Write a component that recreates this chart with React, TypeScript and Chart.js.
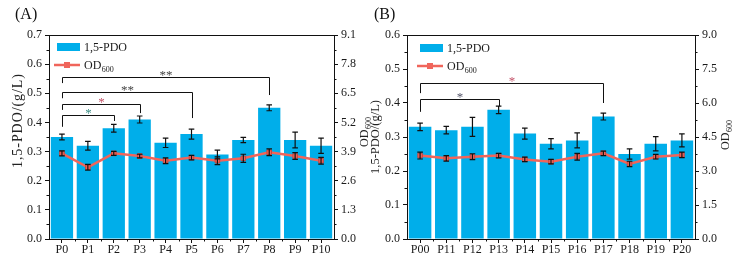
import React, { useEffect, useRef } from 'react';
import { Chart, registerables } from 'chart.js';

Chart.register(...registerables);

const SERIF = '"Liberation Serif", "Times New Roman", Times, serif';
const BAR_COLOR = '#00AEEA';
const LINE_COLOR = '#F0655B';
const MARKER_EDGE = '#C9443C';
const INK = '#111111';

// ---------- Panel (A) ----------
const categoriesA = ['P0', 'P1', 'P2', 'P3', 'P4', 'P5', 'P6', 'P7', 'P8', 'P9', 'P10'];
const pdoA = [0.35, 0.32, 0.38, 0.41, 0.33, 0.36, 0.29, 0.34, 0.45, 0.34, 0.32];
const pdoErrA = [0.01, 0.015, 0.013, 0.012, 0.016, 0.017, 0.015, 0.009, 0.01, 0.027, 0.026];
const odA = [3.82, 3.2, 3.82, 3.7, 3.49, 3.63, 3.49, 3.6, 3.87, 3.7, 3.49];
const odErrA = [0.11, 0.125, 0.09, 0.08, 0.13, 0.1, 0.17, 0.18, 0.15, 0.15, 0.15];
const pdoTicksA = [0, 0.1, 0.2, 0.3, 0.4, 0.5, 0.6, 0.7];
const odTicksA = [0, 1.3, 2.6, 3.9, 5.2, 6.5, 7.8, 9.1];
// significance brackets (g/L units): compared pair, bracket height, leg ends, mark
const sigPairsA = [[0, 2], [0, 3], [0, 5], [0, 8]];
const sigLevelsA = [0.425, 0.462, 0.505, 0.555];
const sigLeftEndsA = [0.385, 0.443, 0.483, 0.535];
const sigRightEndsA = [0.405, 0.432, 0.415, 0.494];
const sigLabelsA = ['*', '*', '**', '**'];
const sigColorsA = ['#3d8f86', '#c4546a', '#444444', '#444444'];

// ---------- Panel (B) ----------
const categoriesB = ['P00', 'P11', 'P12', 'P13', 'P14', 'P15', 'P16', 'P17', 'P18', 'P19', 'P20'];
const pdoB = [0.33, 0.32, 0.33, 0.38, 0.31, 0.28, 0.29, 0.36, 0.25, 0.28, 0.29];
const pdoErrB = [0.011, 0.011, 0.028, 0.011, 0.016, 0.015, 0.022, 0.01, 0.015, 0.021, 0.019];
const odB = [3.68, 3.56, 3.63, 3.68, 3.51, 3.41, 3.63, 3.78, 3.31, 3.63, 3.71];
const odErrB = [0.15, 0.12, 0.13, 0.1, 0.1, 0.1, 0.15, 0.1, 0.12, 0.1, 0.12];
const pdoTicksB = [0, 0.1, 0.2, 0.3, 0.4, 0.5, 0.6];
const odTicksB = [0, 1.5, 3.0, 4.5, 6.0, 7.5, 9.0];
const sigPairsB = [[0, 3], [0, 7]];
const sigLevelsB = [0.411, 0.458];
const sigLeftEndsB = [0.374, 0.429];
const sigRightEndsB = [0.391, 0.4];
const sigLabelsB = ['*', '*'];
const sigColorsB = ['#55566a', '#c4546a'];

type Panel = {
  tag: string;
  categories: string[];
  pdo: number[];
  pdoErr: number[];
  od: number[];
  odErr: number[];
  pdoTicks: number[];
  odTicks: number[];
  sigPairs: number[][];
  sigLevels: number[];
  sigLeftEnds: number[];
  sigRightEnds: number[];
  sigLabels: string[];
  sigColors: string[];
  // layout
  canvasWidth: number;
  leftAxisWidth: number;
  rightAxisWidth: number;
  tagX: number;
  leftTitleX: number;
  leftTitleY: number;
  leftTitleSize: number;
  leftTitleLength: number;
  rightTitleX: number;
  rightTitleY: number;
  legendX: number;
  legendY: number;
};

const panelA: Panel = {
  tag: '(A)',
  categories: categoriesA,
  pdo: pdoA,
  pdoErr: pdoErrA,
  od: odA,
  odErr: odErrA,
  pdoTicks: pdoTicksA,
  odTicks: odTicksA,
  sigPairs: sigPairsA,
  sigLevels: sigLevelsA,
  sigLeftEnds: sigLeftEndsA,
  sigRightEnds: sigRightEndsA,
  sigLabels: sigLabelsA,
  sigColors: sigColorsA,
  canvasWidth: 380,
  leftAxisWidth: 49,
  rightAxisWidth: 46,
  tagX: 15,
  leftTitleX: 18,
  leftTitleY: 121,
  leftTitleSize: 14,
  leftTitleLength: 94,
  rightTitleX: 364,
  rightTitleY: 132,
  legendX: 57,
  legendY: 47,
};

const panelB: Panel = {
  tag: '(B)',
  categories: categoriesB,
  pdo: pdoB,
  pdoErr: pdoErrB,
  od: odB,
  odErr: odErrB,
  pdoTicks: pdoTicksB,
  odTicks: odTicksB,
  sigPairs: sigPairsB,
  sigLevels: sigLevelsB,
  sigLeftEnds: sigLeftEndsB,
  sigRightEnds: sigRightEndsB,
  sigLabels: sigLabelsB,
  sigColors: sigColorsB,
  canvasWidth: 367,
  leftAxisWidth: 40,
  rightAxisWidth: 39,
  tagX: 7,
  leftTitleX: 9,
  leftTitleY: 137,
  leftTitleSize: 12.5,
  leftTitleLength: 72,
  rightTitleX: 358,
  rightTitleY: 135,
  legendX: 53,
  legendY: 48,
};

function drawSubscriptLabel(ctx: CanvasRenderingContext2D, x: number, y: number) {
  // "OD" with a "600" subscript, left aligned at x, vertically centred on y
  ctx.font = `12px ${SERIF}`;
  ctx.textAlign = 'left';
  ctx.textBaseline = 'alphabetic';
  const base = y + 4;
  ctx.fillText('OD', x, base);
  const w = ctx.measureText('OD').width;
  ctx.font = `8px ${SERIF}`;
  ctx.fillText('600', x + w + 0.5, base + 2.5);
}

const decorPlugin = {
  id: 'panelDecor',
  afterDatasetsDraw(chart: any, _args: any, opts: any) {
    const p: Panel = opts.panel;
    const ctx: CanvasRenderingContext2D = chart.ctx;
    const xs = chart.scales.x;
    const ys = chart.scales.y;
    const ys1 = chart.scales.y1;
    const { left, right, top, bottom } = chart.chartArea;
    ctx.save();

    // top frame line
    ctx.strokeStyle = INK;
    ctx.lineWidth = 1;
    ctx.beginPath();
    ctx.moveTo(left, top + 0.5);
    ctx.lineTo(right, top + 0.5);
    ctx.stroke();

    // minor ticks
    ctx.beginPath();
    for (let i = 0; i < p.categories.length - 1; i++) {
      const mx = Math.round((xs.getPixelForValue(i) + xs.getPixelForValue(i + 1)) / 2) + 0.5;
      ctx.moveTo(mx, bottom);
      ctx.lineTo(mx, bottom + 2.5);
    }
    for (let i = 0; i < p.pdoTicks.length - 1; i++) {
      const my = Math.round(ys.getPixelForValue((p.pdoTicks[i] + p.pdoTicks[i + 1]) / 2)) + 0.5;
      ctx.moveTo(left, my);
      ctx.lineTo(left - 2.5, my);
    }
    for (let i = 0; i < p.odTicks.length - 1; i++) {
      const my = Math.round(ys1.getPixelForValue((p.odTicks[i] + p.odTicks[i + 1]) / 2)) + 0.5;
      ctx.moveTo(right, my);
      ctx.lineTo(right + 2.5, my);
    }
    ctx.stroke();

    // error bars
    ctx.strokeStyle = INK;
    ctx.lineWidth = 1.2;
    const drawErr = (vals: number[], errs: number[], scale: any) => {
      ctx.beginPath();
      vals.forEach((v, i) => {
        const cx = xs.getPixelForValue(i);
        const yt = scale.getPixelForValue(v + errs[i]);
        const yb = scale.getPixelForValue(v - errs[i]);
        ctx.moveTo(cx, yt);
        ctx.lineTo(cx, yb);
        ctx.moveTo(cx - 2.8, yt);
        ctx.lineTo(cx + 2.8, yt);
        ctx.moveTo(cx - 2.8, yb);
        ctx.lineTo(cx + 2.8, yb);
      });
      ctx.stroke();
    };
    drawErr(p.pdo, p.pdoErr, ys);
    drawErr(p.od, p.odErr, ys1);

    // significance brackets
    ctx.lineWidth = 1;
    p.sigPairs.forEach((pair, k) => {
      const x0 = Math.round(xs.getPixelForValue(pair[0])) + 0.5;
      const x1 = Math.round(xs.getPixelForValue(pair[1])) + 0.5;
      const yl = Math.round(ys.getPixelForValue(p.sigLevels[k])) + 0.5;
      const y0 = ys.getPixelForValue(p.sigLeftEnds[k]);
      const y1 = ys.getPixelForValue(p.sigRightEnds[k]);
      ctx.strokeStyle = INK;
      ctx.beginPath();
      ctx.moveTo(x0, y0);
      ctx.lineTo(x0, yl);
      ctx.lineTo(x1, yl);
      ctx.lineTo(x1, y1);
      ctx.stroke();
      ctx.fillStyle = p.sigColors[k];
      ctx.font = `13px ${SERIF}`;
      ctx.textAlign = 'center';
      ctx.textBaseline = 'alphabetic';
      ctx.fillText(p.sigLabels[k], (x0 + x1) / 2, yl + 1);
    });

    // legend
    const lx = p.legendX;
    const ly = p.legendY;
    ctx.fillStyle = BAR_COLOR;
    ctx.fillRect(lx, ly - 4, 23, 8);
    ctx.fillStyle = '#1a1a1a';
    ctx.font = `12px ${SERIF}`;
    ctx.textAlign = 'left';
    ctx.textBaseline = 'middle';
    ctx.fillText('1,5-PDO', lx + 27, ly + 0.5);
    const ly2 = ly + 18;
    ctx.strokeStyle = LINE_COLOR;
    ctx.lineWidth = 2.5;
    ctx.beginPath();
    ctx.moveTo(lx - 3, ly2);
    ctx.lineTo(lx + 23, ly2);
    ctx.stroke();
    ctx.fillStyle = LINE_COLOR;
    ctx.fillRect(lx + 10 - 3, ly2 - 3, 6, 6);
    ctx.fillStyle = '#1a1a1a';
    drawSubscriptLabel(ctx, lx + 27, ly2);

    // panel tag
    ctx.font = `16px ${SERIF}`;
    ctx.textAlign = 'left';
    ctx.textBaseline = 'alphabetic';
    ctx.fillStyle = '#111';
    ctx.fillText(p.tag, p.tagX, 19);

    // left axis title (rotated, spaced out to its drawn length)
    ctx.save();
    ctx.translate(p.leftTitleX, p.leftTitleY);
    ctx.rotate(-Math.PI / 2);
    ctx.font = `${p.leftTitleSize}px ${SERIF}`;
    const lt = '1,5-PDO/(g/L)';
    const ltw = ctx.measureText(lt).width;
    const spacing = Math.max(0, (p.leftTitleLength - ltw) / (lt.length - 1));
    (ctx as any).letterSpacing = `${spacing}px`;
    ctx.textAlign = 'center';
    ctx.textBaseline = 'middle';
    ctx.fillStyle = '#222';
    ctx.fillText(lt, spacing / 2, 0);
    (ctx as any).letterSpacing = '0px';
    ctx.restore();

    // right axis title (rotated, with subscript)
    ctx.save();
    ctx.translate(p.rightTitleX, p.rightTitleY);
    ctx.rotate(-Math.PI / 2);
    ctx.font = `12px ${SERIF}`;
    const odw = ctx.measureText('OD').width;
    ctx.font = `8px ${SERIF}`;
    const subw = ctx.measureText('600').width;
    ctx.fillStyle = '#222';
    drawSubscriptLabel(ctx, -(odw + subw + 0.5) / 2, 0);
    ctx.restore();

    ctx.restore();
  },
};

function buildConfig(p: Panel): any {
  const tickFont = { family: SERIF, size: 12 };
  return {
    type: 'bar',
    data: {
      labels: p.categories,
      datasets: [
        {
          type: 'line',
          label: 'OD600',
          data: p.od,
          yAxisID: 'y1',
          borderColor: LINE_COLOR,
          borderWidth: 2.5,
          pointStyle: 'rect',
          pointRadius: 3.2,
          pointBackgroundColor: LINE_COLOR,
          pointBorderColor: MARKER_EDGE,
          pointBorderWidth: 1,
          tension: 0,
          order: 0,
        },
        {
          type: 'bar',
          label: '1,5-PDO',
          data: p.pdo,
          yAxisID: 'y',
          backgroundColor: BAR_COLOR,
          borderWidth: 0,
          barPercentage: 0.86,
          categoryPercentage: 1,
          order: 1,
        },
      ],
    },
    options: {
      responsive: false,
      animation: false,
      devicePixelRatio: 1,
      layout: { padding: { top: 35, left: 0, right: 0, bottom: 0 } },
      plugins: {
        legend: { display: false },
        tooltip: { enabled: false },
        panelDecor: { panel: p },
      },
      scales: {
        x: {
          offset: true,
          grid: { offset: false, drawOnChartArea: false, tickLength: 4, color: INK, lineWidth: 1 },
          border: { color: INK, width: 1 },
          ticks: { font: tickFont, color: '#1a1a1a', padding: 0, maxRotation: 0, autoSkip: false },
          afterFit(s: any) {
            s.height = 20;
          },
        },
        y: {
          position: 'left',
          min: 0,
          max: p.pdoTicks[p.pdoTicks.length - 1],
          afterBuildTicks(s: any) {
            s.ticks = p.pdoTicks.map((v) => ({ value: v }));
          },
          grid: { drawOnChartArea: false, tickLength: 4, color: INK, lineWidth: 1 },
          border: { color: INK, width: 1 },
          ticks: {
            font: tickFont,
            color: '#1a1a1a',
            padding: 3,
            callback: (v: any) => Number(v).toFixed(1),
          },
          afterFit(s: any) {
            s.width = p.leftAxisWidth;
          },
        },
        y1: {
          position: 'right',
          min: 0,
          max: p.odTicks[p.odTicks.length - 1],
          afterBuildTicks(s: any) {
            s.ticks = p.odTicks.map((v) => ({ value: v }));
          },
          grid: { drawOnChartArea: false, tickLength: 4, color: INK, lineWidth: 1 },
          border: { color: INK, width: 1 },
          ticks: {
            font: tickFont,
            color: '#1a1a1a',
            padding: 3,
            callback: (v: any) => Number(v).toFixed(1),
          },
          afterFit(s: any) {
            s.width = p.rightAxisWidth;
          },
        },
      },
    },
    plugins: [decorPlugin],
  };
}

function PanelChart({ panel, left }: { panel: Panel; left: number }) {
  const ref = useRef<HTMLCanvasElement>(null);
  useEffect(() => {
    if (!ref.current) return;
    const chart = new Chart(ref.current, buildConfig(panel));
    return () => chart.destroy();
  }, [panel]);
  return (
    <canvas
      ref={ref}
      width={panel.canvasWidth}
      height={259}
      style={{ position: 'absolute', left, top: 0, width: panel.canvasWidth, height: 259 }}
    />
  );
}

export default function App() {
  return (
    <div
      style={{
        position: 'absolute',
        left: 0,
        top: 0,
        width: 734,
        height: 259,
        background: '#ffffff',
        overflow: 'hidden',
      }}
    >
      <PanelChart panel={panelA} left={0} />
      <PanelChart panel={panelB} left={367} />
    </div>
  );
}
